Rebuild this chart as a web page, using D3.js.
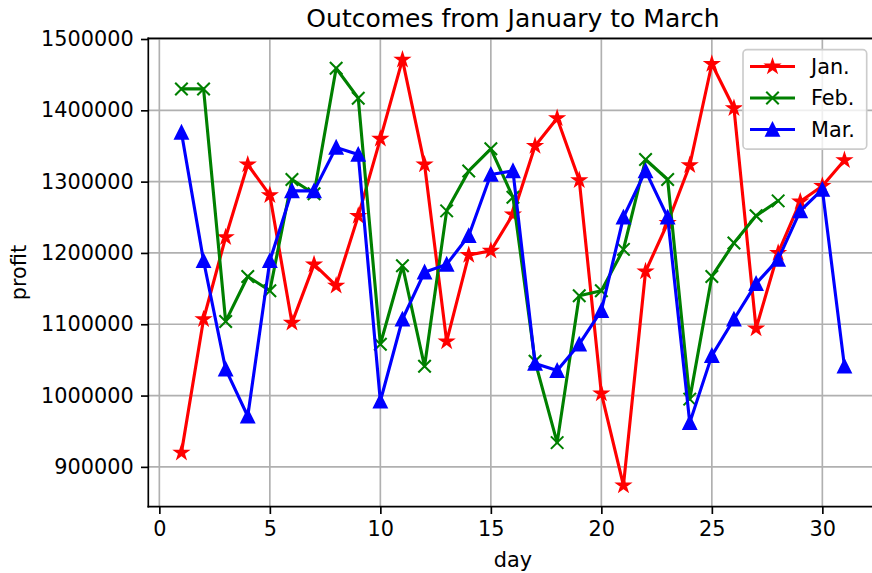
<!DOCTYPE html>
<html><head><meta charset="utf-8">
<script src="https://cdn.jsdelivr.net/npm/d3@7"></script>
<style>body{margin:0;background:#fff}svg text{font-family:"DejaVu Sans",sans-serif;fill:#000}</style>
</head><body>
<svg id="c" width="872" height="573"></svg>
<script>
const days = d3.range(1, 32);
const jan = [920000,1107000,1222000,1324000,1281000,1102000,1184000,1154000,1252000,1360000,1471000,1324000,1076000,1197000,1203000,1254000,1350000,1389000,1302000,1003000,874000,1174000,1242000,1323000,1465000,1403000,1094000,1200000,1272000,1294000,1330000];
const feb = [1430000,1430000,1104000,1167000,1147000,1303000,1283000,1459000,1417000,1072000,1182000,1041000,1259000,1315000,1346000,1278000,1048000,934000,1140000,1147000,1205000,1331000,1303000,995000,1167000,1214000,1252000,1273000];
const mar = [1369000,1189000,1037000,971000,1189000,1287000,1287000,1348000,1338000,992000,1107000,1173000,1184000,1224000,1310000,1315000,1045000,1035000,1072000,1119000,1250000,1315000,1250000,962000,1056000,1107000,1157000,1191000,1259000,1289000,1041000];
const seriesNames = ["Jan.","Feb.","Mar."];
const xTicks = [0,5,10,15,20,25,30];
const yTicks = [900000,1000000,1100000,1200000,1300000,1400000,1500000];
const titleText = "Outcomes from January to March";
const xLabel = "day", yLabel = "profit";

const series = [
  {name: seriesNames[0], values: jan, color: "#ff0000", marker: "star"},
  {name: seriesNames[1], values: feb, color: "#008000", marker: "x"},
  {name: seriesNames[2], values: mar, color: "#0000ff", marker: "tri"}
];

const L = 148.3, R = 877.6, T = 38.4, B = 506.7;
const all = jan.concat(feb, mar);
const ymin = d3.min(all), ymax = d3.max(all), ym = (ymax - ymin) * 0.05;
const x = d3.scaleLinear().domain([-0.5, 32.5]).range([L, R]);
const y = d3.scaleLinear().domain([ymin - ym, ymax + ym]).range([B, T]);

const svg = d3.select("#c");
const fs = 20.8, lw = 3.125, mew = 2.083, ms = 12.5;

// grid
const g = svg.append("g");
g.selectAll(".gx").data(xTicks).join("line").attr("x1", d => x(d)).attr("x2", d => x(d)).attr("y1", T).attr("y2", B).attr("stroke", "#b0b0b0").attr("stroke-width", 1.67);
g.selectAll(".gy").data(yTicks).join("line").attr("x1", L).attr("x2", R).attr("y1", d => y(d)).attr("y2", d => y(d)).attr("stroke", "#b0b0b0").attr("stroke-width", 1.67);

function markerPath(type) {
  const r = ms / 2;
  if (type === "star") {
    const pts = [];
    for (let i = 0; i < 10; i++) {
      const rad = i % 2 === 0 ? r : r * 0.381966;
      const a = -Math.PI / 2 + i * Math.PI / 5;
      pts.push([rad * Math.cos(a), rad * Math.sin(a)]);
    }
    return "M" + pts.map(p => p.join(",")).join("L") + "Z";
  }
  if (type === "tri") return `M0,${-r}L${-r},${r}L${r},${r}Z`;
  return `M${-r},${-r}L${r},${r}M${-r},${r}L${r},${-r}`;
}

svg.append("clipPath").attr("id", "clip").append("rect").attr("x", L).attr("y", T).attr("width", R - L).attr("height", B - T);
const plot = svg.append("g").attr("clip-path", "url(#clip)");
const line = d3.line().x((d, i) => x(days[i])).y(d => y(d));
series.forEach(s => {
  const sg = plot.append("g");
  sg.append("path").attr("d", line(s.values)).attr("fill", "none").attr("stroke", s.color).attr("stroke-width", lw).attr("stroke-linejoin", "round").attr("stroke-linecap", "square");
  sg.selectAll("path.m").data(s.values).join("path").attr("class", "m")
    .attr("transform", (d, i) => `translate(${x(days[i])},${y(d)})`)
    .attr("d", markerPath(s.marker))
    .attr("fill", s.marker === "x" ? "none" : s.color)
    .attr("stroke", s.color).attr("stroke-width", mew).attr("stroke-linejoin", "miter");
});

// axes
const xa = svg.append("g").attr("transform", `translate(0,${B})`).call(d3.axisBottom(x).tickValues(xTicks).tickSize(7.3).tickPadding(7.3).tickFormat(d3.format("d")));
const ya = svg.append("g").attr("transform", `translate(${L},0)`).call(d3.axisLeft(y).tickValues(yTicks).tickSize(7.3).tickPadding(7.3).tickFormat(d3.format("d")));
[xa, ya].forEach(a => {
  a.select(".domain").remove();
  a.selectAll("line").attr("stroke", "#000").attr("stroke-width", 1.67);
  a.selectAll("text").attr("font-size", fs).attr("font-family", "DejaVu Sans");
});
// spines
const sp = svg.append("g").attr("stroke", "#000").attr("stroke-width", 1.67).attr("stroke-linecap", "square");
sp.append("line").attr("x1", L).attr("x2", L).attr("y1", T).attr("y2", B);
sp.append("line").attr("x1", L).attr("x2", R).attr("y1", B).attr("y2", B);
sp.append("line").attr("x1", L).attr("x2", R).attr("y1", T).attr("y2", T);
sp.append("line").attr("x1", R).attr("x2", R).attr("y1", T).attr("y2", B);

// labels
svg.append("text").attr("x", (L + R) / 2).attr("y", 27).attr("text-anchor", "middle").attr("font-size", 25).text(titleText);
svg.append("text").attr("x", (L + R) / 2).attr("y", 567).attr("text-anchor", "middle").attr("font-size", fs).text(xLabel);
svg.append("text").attr("transform", `translate(26,${(T + B) / 2}) rotate(-90)`).attr("text-anchor", "middle").attr("font-size", fs).text(yLabel);

// legend
const lg = svg.append("g");
lg.append("rect").attr("x", 743).attr("y", 49.7).attr("width", 123.7).attr("height", 99.5).attr("rx", 4).attr("fill", "#fff").attr("fill-opacity", 0.8).attr("stroke", "#cccccc").attr("stroke-width", 1.67);
series.forEach((s, i) => {
  const cy = 66.5 + i * 31.5;
  lg.append("line").attr("x1", 750).attr("x2", 795).attr("y1", cy).attr("y2", cy).attr("stroke", s.color).attr("stroke-width", lw);
  lg.append("path").attr("transform", `translate(772.5,${cy})`).attr("d", markerPath(s.marker))
    .attr("fill", s.marker === "x" ? "none" : s.color).attr("stroke", s.color).attr("stroke-width", mew);
  lg.append("text").attr("x", 811).attr("y", cy).attr("dy", "0.36em").attr("font-size", fs).text(s.name);
});
</script>
</body></html>
